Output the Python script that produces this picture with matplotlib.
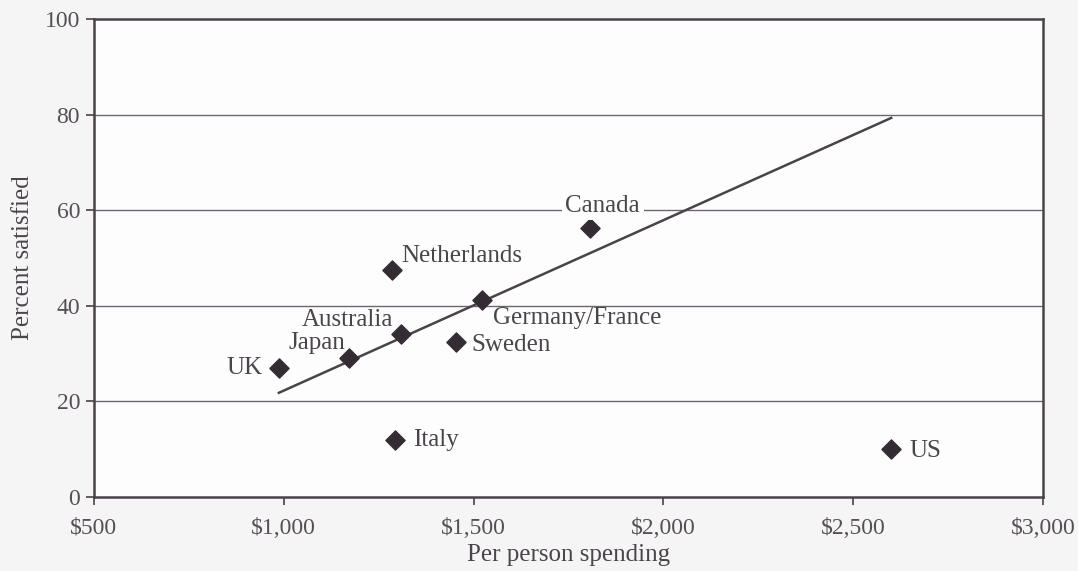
import matplotlib
matplotlib.use("Agg")
import matplotlib.pyplot as plt
from matplotlib.ticker import FuncFormatter

countries = ["UK", "Japan", "Australia", "Netherlands", "Germany/France",
             "Sweden", "Italy", "Canada", "US"]
spending = [987, 1172, 1309, 1285, 1522, 1454, 1293, 1807, 2600]
satisfied = [27.0, 29.1, 34.1, 47.5, 41.2, 32.4, 11.9, 56.3, 10.0]

trend_x = [987, 2600]
trend_y = [21.8, 79.3]

x_ticks = [500, 1000, 1500, 2000, 2500, 3000]
y_ticks = [0, 20, 40, 60, 80, 100]

ink = "#4a4349"
grid_c = "#6e6570"
plt.rcParams['font.family'] = ['Liberation Serif', 'DejaVu Serif']

fig = plt.figure(figsize=(10.78, 5.71), dpi=100)
fig.patch.set_facecolor("#f6f5f6")
ax = fig.add_axes([94/1078, 74/571, 949/1078, 478/571])
ax.set_facecolor("#fdfdfd")

ax.set_xlim(500, 3000)
ax.set_ylim(0, 100)
ax.set_xticks(x_ticks)
ax.set_yticks(y_ticks)
ax.xaxis.set_major_formatter(FuncFormatter(lambda v, p: "${:,.0f}".format(v)))
for yv in y_ticks[1:-1]:
    ax.axhline(yv, color=grid_c, lw=1.0, zorder=1)

for s in ax.spines.values():
    s.set_color(ink)
    s.set_linewidth(1.8)

ax.tick_params(axis='both', colors=ink, labelcolor="#555055", labelsize=17,
               length=6, width=1.2, direction='out')
ax.tick_params(axis='x', pad=9)
ax.tick_params(axis='y', pad=4)

ax.plot(trend_x, trend_y, color=ink, lw=1.8, zorder=3)
ax.scatter(spending, satisfied, marker='D', s=95, color="#332d33", zorder=4)

offsets = {
    "UK": (-12, 0, 'right', 'center'),
    "Japan": (-3, 11, 'right', 'center'),
    "Australia": (-6, 10, 'right', 'center'),
    "Netherlands": (7, 10, 'left', 'center'),
    "Germany/France": (8, -13, 'left', 'center'),
    "Sweden": (11, -2, 'left', 'center'),
    "Italy": (13, 0, 'left', 'center'),
    "Canada": (9, 16, 'center', 'center'),
    "US": (13, -1, 'left', 'center'),
}
for c, xv, yv in zip(countries, spending, satisfied):
    dx, dy, ha, va = offsets[c]
    kw = {}
    if c == "Canada":
        kw['bbox'] = dict(boxstyle='square,pad=0.15', fc="#fdfdfd", ec='none')
    ax.annotate(c, (xv, yv), xytext=(dx, dy), textcoords='offset points',
                ha=ha, va=va, fontsize=18, color="#4a454a", zorder=5, **kw)

ax.set_xlabel("Per person spending", fontsize=18, color="#4a454a", labelpad=4)
ax.set_ylabel("Percent satisfied", fontsize=18, color="#4a454a", labelpad=8)

fig.savefig("out.png", dpi=100, facecolor=fig.get_facecolor())
